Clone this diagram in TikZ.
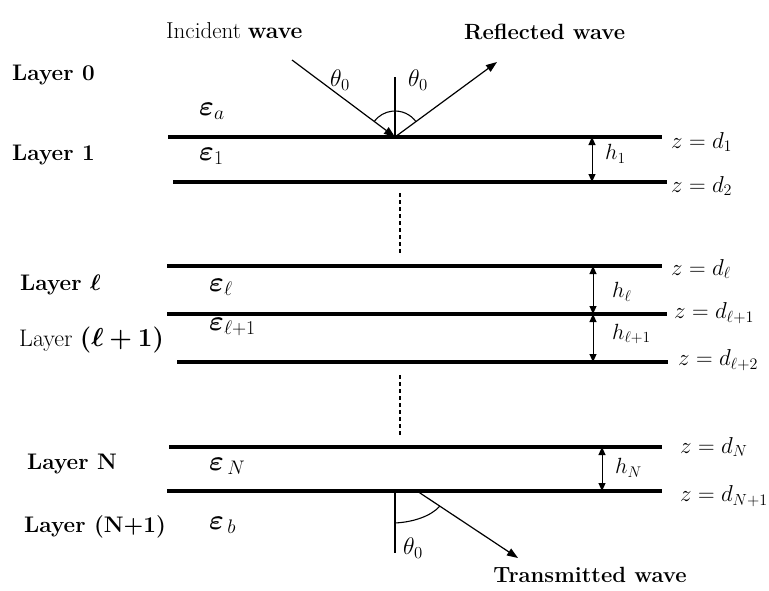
\RequirePackage{fix-cm}
\documentclass[tikz,border=0pt]{standalone}
\usepackage{amsmath,bm}
\usetikzlibrary{arrows.meta}
\begin{document}
\begin{tikzpicture}[x=1pt,y=-1pt,
  layerline/.style={line width=3.3pt},
  harrow/.style={line width=1pt,{Triangle[length=8pt,width=7pt]}-{Triangle[length=8pt,width=7pt]}},
  ray/.style={line width=1.2pt,-{Triangle[length=11pt,width=8pt]}},
  normline/.style={line width=1.1pt},
  dashline/.style={line width=1.3pt,dash pattern=on 4pt off 3pt},
  laybf/.style={anchor=west,inner sep=0pt,font=\fontsize{22.5}{26}\selectfont\bfseries},
  layrm/.style={anchor=west,inner sep=0pt,font=\fontsize{24}{28}\selectfont},
  eps/.style={anchor=west,inner sep=0pt,font=\fontsize{28}{32}\selectfont},
  zlab/.style={anchor=west,inner sep=0pt,font=\fontsize{23}{27}\selectfont},
  hlab/.style={anchor=west,inner sep=0pt,font=\fontsize{22}{26}\selectfont},
  theta/.style={inner sep=0pt,font=\fontsize{24}{28}\selectfont},
  wave/.style={inner sep=0pt,font=\fontsize{23}{27}\selectfont}]
\useasboundingbox (0,0) rectangle (769,590);

% layer boundaries
\coordinate (L1a) at (168,137); \coordinate (L1b) at (662,137);
\coordinate (L2a) at (173,182); \coordinate (L2b) at (667,182);
\coordinate (L3a) at (167,266); \coordinate (L3b) at (662,266);
\coordinate (L4a) at (167,314); \coordinate (L4b) at (667,314);
\coordinate (L5a) at (177,362); \coordinate (L5b) at (668,362);
\coordinate (L6a) at (169,447); \coordinate (L6b) at (662,447);
\coordinate (L7a) at (167,491); \coordinate (L7b) at (662,491);
\foreach \i in {1,...,7} {\draw[layerline] (L\i a) -- (L\i b);}

% thickness arrows
\coordinate (h1t) at (592,137); \coordinate (h1b) at (592,182);
\coordinate (hlt) at (593,266); \coordinate (hlb) at (593,314);
\coordinate (hmt) at (593,314); \coordinate (hmb) at (593,362);
\coordinate (hNt) at (602,447); \coordinate (hNb) at (602,491);
\draw[harrow] (h1t) -- (h1b);
\draw[harrow] (hlt) -- (hlb);
\draw[harrow] (hmt) -- (hmb);
\draw[harrow] (hNt) -- (hNb);
\node[hlab] (h1) at (605,154) {$h_1$};
\node[hlab] (hl) at (612,292) {$h_\ell$};
\node[hlab] (hm) at (612,334) {$h_{\ell+1}$};
\node[hlab] (hN) at (615,468) {$h_N$};

% z labels
\node[zlab] (z1) at (671,142) {$z=d_1$};
\node[zlab] (z2) at (671,186) {$z=d_2$};
\node[zlab] (zl) at (671,269) {$z=d_\ell$};
\node[zlab] (zm) at (674,313) {$z=d_{\ell+1}$};
\node[zlab] (zn) at (678,360) {$z=d_{\ell+2}$};
\node[zlab] (zN) at (680,447) {$z=d_N$};
\node[zlab] (zN1) at (680,496) {$z=d_{N+1}$};

% layer names
\node[laybf] (lay0) at (12,75) {Layer 0};
\node[laybf] (lay1) at (12,155) {Layer 1};
\node[laybf] (layl) at (20,285) {Layer $\bm{\ell}$};
\node[layrm] (laym) at (19,340) {Layer {\fontsize{26}{30}\selectfont$\bm{(\ell+1)}$}};
\node[laybf] (layN) at (27,464) {Layer N};
\node[laybf] (layN1) at (24,527) {Layer (N+1)};

% permittivities
\node[eps] (ea) at (199,111) {$\bm{\varepsilon}_a$};
\node[eps] (e1) at (199,156) {$\bm{\varepsilon}_1$};
\node[eps] (el) at (209,287) {$\bm{\varepsilon}_\ell$};
\node[eps] (em) at (209,327) {$\bm{\varepsilon}_{\ell+1}$};
\node[eps] (eN) at (209,466) {$\bm{\varepsilon}_{\,N}$};
\node[eps] (eb) at (209,525) {$\bm{\varepsilon}_{\,b}$};

% dashed continuation
\coordinate (d1a) at (400,193); \coordinate (d1b) at (400,255);
\coordinate (d2a) at (400,375); \coordinate (d2b) at (400,435);
\draw[dashline] (d1a) -- (d1b);
\draw[dashline] (d2a) -- (d2b);

% incident / reflected
\coordinate (O) at (395,137);
\coordinate (inS) at (292,60);
\coordinate (reE) at (497,62);
\coordinate (nT) at (395,77);
\draw[ray] (inS) -- (O);
\draw[ray] (O) -- (reE);
\draw[normline] (O) -- (nT);
\draw[normline] ([shift={(36:26pt)}]O) arc[start angle=-36,end angle=-143,radius=26];
\node[theta] (t1) at (340,80) {$\theta_0$};
\node[theta] (t2) at (418,80) {$\theta_0$};
\node[wave,anchor=west] (inc) at (166,31) {Incident \textbf{wave}};
\node[wave,anchor=west,font=\fontsize{22}{26}\selectfont\bfseries] (refl) at (464,32) {Reflected wave};

% transmitted
\coordinate (Tv) at (395,491); \coordinate (Tvb) at (395,553);
\coordinate (Ts) at (417,491); \coordinate (Te) at (518,558);
\coordinate (Ta) at (395,523); \coordinate (Tb) at (440,506);
\draw[normline] (Tv) -- (Tvb);
\draw[ray] (Ts) -- (Te);
\draw[normline] (Ta) .. controls (414,522) and (431,516) .. (Tb);
\node[theta] (t3) at (413,548) {$\theta_0$};
\node[wave,font=\fontsize{22}{26}\selectfont\bfseries] (trans) at (590,575) {Transmitted wave};
\end{tikzpicture}
\end{document}
